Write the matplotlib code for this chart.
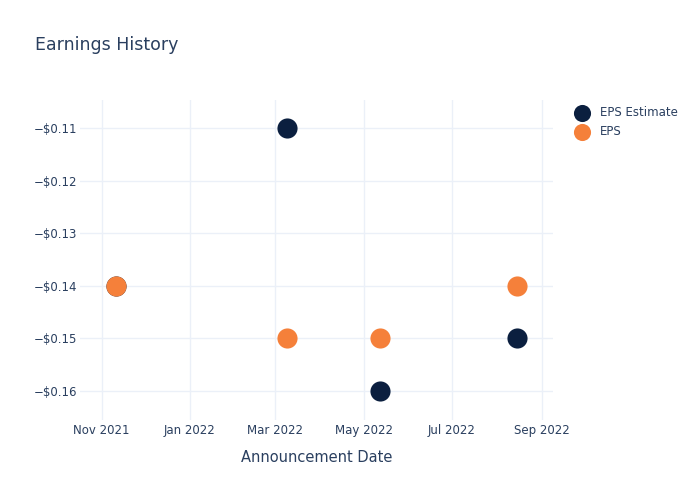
import datetime as dt

import matplotlib
matplotlib.use('Agg')
import matplotlib.pyplot as plt
import matplotlib.dates as mdates
from matplotlib.ticker import FuncFormatter

dates = [dt.date(2021, 11, 11), dt.date(2022, 3, 9),
         dt.date(2022, 5, 12), dt.date(2022, 8, 15)]
eps_estimate = [-0.14, -0.11, -0.16, -0.15]
eps_actual = [-0.14, -0.15, -0.15, -0.14]

navy = '#0b1f3f'
orange = '#f5803a'
text_col = '#2a3f5f'
grid_col = '#ebf0f8'

fig = plt.figure(figsize=(7, 5), dpi=100)
ax = fig.add_axes([0.1143, 0.16, 0.676, 0.64])

ax.scatter(dates, eps_estimate, s=210, color=navy, label='EPS Estimate',
           zorder=3, linewidths=0)
ax.scatter(dates, eps_actual, s=210, color=orange, label='EPS',
           zorder=4, linewidths=0)

ax.set_xlim(dt.date(2021, 10, 17), dt.date(2022, 9, 9))
ax.set_ylim(-0.1655, -0.1047)

ax.xaxis.set_major_locator(mdates.MonthLocator(bymonth=[1, 3, 5, 7, 9, 11]))
ax.xaxis.set_major_formatter(mdates.DateFormatter('%b %Y'))
ax.set_yticks([-0.16, -0.15, -0.14, -0.13, -0.12, -0.11])
ax.yaxis.set_major_formatter(
    FuncFormatter(lambda v, p: '\u2212$%.2f' % abs(v) if v < 0 else '$%.2f' % v))

ax.grid(True, color=grid_col, linewidth=1)
ax.set_axisbelow(True)
for s in ax.spines.values():
    s.set_visible(False)
ax.tick_params(length=0, labelsize=8.5, colors=text_col)
ax.tick_params(axis='y', pad=2)
ax.tick_params(axis='x', pad=3)

ax.set_xlabel('Announcement Date', fontsize=10.5, color=text_col, labelpad=9)
fig.text(0.05, 0.91, 'Earnings History', fontsize=12.5, color=text_col,
         va='center', ha='left')

leg = ax.legend(loc='upper left', bbox_to_anchor=(1.013, 1.015), frameon=False,
                fontsize=8.5, labelcolor=text_col, handletextpad=0.5,
                labelspacing=0.55, markerscale=0.85)

plt.savefig('out.png')
